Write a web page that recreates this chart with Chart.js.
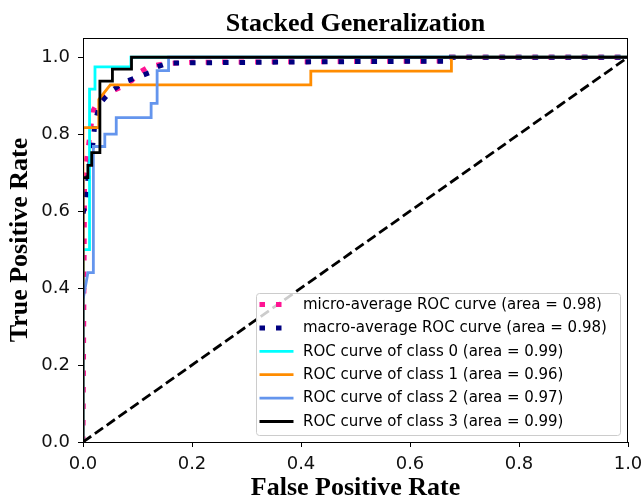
<!DOCTYPE html>
<html>
<head>
<meta charset="utf-8">
<title>Stacked Generalization</title>
<script src="https://cdn.jsdelivr.net/npm/chart.js@4.4.0/dist/chart.umd.min.js"></script>
<style>
  body { margin: 0; background: #fff; }
  .chart-box { width: 644px; height: 502px; }
</style>
</head>
<body>
<div class="chart-box"><canvas id="rocChart"></canvas></div>
<script>
// values
const chartTitle = "Stacked Generalization";
const xTitle = "False Positive Rate";
const yTitle = "True Positive Rate";
const xTicks = [0, 0.2, 0.4, 0.6, 0.8, 1.0];
const yTicks = [0, 0.2, 0.4, 0.6, 0.8, 1.0];

const seriesLabels = [
  "micro-average ROC curve (area = 0.98)",
  "macro-average ROC curve (area = 0.98)",
  "ROC curve of class 0 (area = 0.99)",
  "ROC curve of class 1 (area = 0.96)",
  "ROC curve of class 2 (area = 0.97)",
  "ROC curve of class 3 (area = 0.99)"
];

const microFpr = [0, 0.003, 0.008, 0.013, 0.018, 0.03, 0.05, 0.07, 0.09, 0.1, 0.123, 0.15, 0.2, 0.66, 0.66, 1];
const microTpr = [0, 0.70, 0.75, 0.80, 0.86, 0.89, 0.91, 0.922, 0.94, 0.958, 0.977, 0.983, 0.987, 0.99, 1, 1];

const macroFpr = [0, 0.005, 0.01, 0.017, 0.022, 0.031, 0.05, 0.074, 0.1, 0.126, 0.136, 0.157, 0.418, 0.676, 0.676, 1];
const macroTpr = [0.594, 0.62, 0.70, 0.76, 0.83, 0.88, 0.91, 0.935, 0.948, 0.962, 0.975, 0.985, 0.988, 0.99, 1, 1];

const class0Fpr = [0, 0, 0.012, 0.012, 0.022, 0.022, 0.088, 0.088, 1];
const class0Tpr = [0, 0.5, 0.5, 0.917, 0.917, 0.975, 0.975, 1, 1];

const class1Fpr = [0, 0, 0.029, 0.029, 0.05, 0.418, 0.418, 0.676, 0.676, 1];
const class1Tpr = [0, 0.817, 0.817, 0.89, 0.928, 0.928, 0.964, 0.964, 1, 1];

const class2Fpr = [0, 0, 0.009, 0.019, 0.019, 0.040, 0.040, 0.061, 0.061, 0.125, 0.125, 0.136, 0.136, 0.157, 0.157, 1];
const class2Tpr = [0, 0.37, 0.44, 0.44, 0.768, 0.768, 0.8, 0.8, 0.843, 0.843, 0.88, 0.88, 0.965, 0.965, 1, 1];

const class3Fpr = [0, 0, 0.009, 0.009, 0.016, 0.016, 0.031, 0.031, 0.054, 0.054, 0.089, 0.089, 1];
const class3Tpr = [0, 0.687, 0.687, 0.719, 0.719, 0.752, 0.752, 0.938, 0.938, 0.969, 0.969, 1, 1];

const chanceFpr = [0, 1];
const chanceTpr = [0, 1];

const toPoints = (xs, ys) => xs.map((x, i) => ({ x: x, y: ys[i] }));

const lineSet = (label, xs, ys, color, width, dash, order) => ({
  label: label,
  data: toPoints(xs, ys),
  borderColor: color,
  backgroundColor: color,
  borderWidth: width,
  borderDash: dash,
  borderJoinStyle: "miter",
  pointRadius: 0,
  tension: 0,
  fill: false,
  order: order
});

const dotted = [5.5, 11];

const datasets = [
  lineSet(seriesLabels[0], microFpr, microTpr, "#ff1493", 5, dotted, 7),
  lineSet(seriesLabels[1], macroFpr, macroTpr, "#000080", 5, dotted, 6),
  lineSet(seriesLabels[2], class0Fpr, class0Tpr, "#00ffff", 2.8, [], 5),
  lineSet(seriesLabels[3], class1Fpr, class1Tpr, "#ff8c00", 2.8, [], 4),
  lineSet(seriesLabels[4], class2Fpr, class2Tpr, "#6495ed", 2.8, [], 3),
  lineSet(seriesLabels[5], class3Fpr, class3Tpr, "#000000", 2.8, [], 2),
  lineSet("", chanceFpr, chanceTpr, "#000000", 2.8, [10, 4.5], 1)
];

const serif = "'Liberation Serif', 'Times New Roman', serif";
const sans = "'DejaVu Sans', sans-serif";

// frame round the plot, title over the axes
const framePlugin = {
  id: "frame",
  afterDatasetsDraw(chart) {
    const { ctx, chartArea: a } = chart;
    ctx.save();
    ctx.strokeStyle = "#000";
    ctx.lineWidth = 1;
    ctx.strokeRect(a.left + 0.5, a.top + 0.5, a.right - a.left - 1, a.bottom - a.top);
    ctx.fillStyle = "#000";
    ctx.font = "bold 26px " + serif;
    ctx.textAlign = "center";
    ctx.textBaseline = "alphabetic";
    ctx.fillText(chartTitle, (a.left + a.right) / 2, 31);
    ctx.restore();
  }
};

// legend box in the lower right of the plot
const legendPlugin = {
  id: "boxLegend",
  afterDraw(chart) {
    const { ctx } = chart;
    const items = chart.data.datasets.filter((d) => d.label);
    const x0 = 256, y0 = 293, w = 364, h = 142;
    ctx.save();
    ctx.fillStyle = "rgba(255,255,255,0.8)";
    ctx.strokeStyle = "#cccccc";
    ctx.lineWidth = 1;
    ctx.beginPath();
    ctx.roundRect(x0 + 0.5, y0 + 0.5, w, h, 3);
    ctx.fill();
    ctx.stroke();
    ctx.font = "15px " + sans;
    ctx.textBaseline = "middle";
    ctx.textAlign = "left";
    items.forEach((d, i) => {
      const y = y0 + 11.5 + i * 23.4;
      ctx.strokeStyle = d.borderColor;
      ctx.lineWidth = d.borderWidth;
      ctx.setLineDash(d.borderDash);
      ctx.beginPath();
      ctx.moveTo(259.5, y);
      ctx.lineTo(d.borderDash.length ? 289 : 293.5, y);
      ctx.stroke();
      ctx.setLineDash([]);
      ctx.fillStyle = "#000";
      ctx.fillText(d.label, 303, y + 0.5);
    });
    ctx.restore();
  }
};

const tickFont = { family: sans, size: 18 };
const titleFont = { family: serif, size: 26, weight: "bold" };

new Chart(document.getElementById("rocChart"), {
  type: "line",
  data: { datasets: datasets },
  options: {
    responsive: true,
    maintainAspectRatio: false,
    animation: false,
    layout: { padding: { left: 0, right: 16, top: 38, bottom: 0 } },
    plugins: {
      legend: { display: false },
      tooltip: { enabled: false },
      title: { display: false }
    },
    scales: {
      x: {
        type: "linear",
        min: 0,
        max: 1,
        afterBuildTicks: (s) => { s.ticks = xTicks.map((v) => ({ value: v })); },
        afterFit: (s) => { s.height = 60; s.paddingLeft = 0; s.paddingRight = 0; },
        ticks: { callback: (v) => v.toFixed(1), font: tickFont, color: "#111", padding: 7, maxRotation: 0 },
        grid: { drawOnChartArea: false, tickLength: 5, color: "#000" },
        border: { color: "#000", width: 1 },
        title: { display: true, text: xTitle, font: titleFont, color: "#000", padding: { top: 0, bottom: -2 } }
      },
      y: {
        type: "linear",
        min: 0,
        max: 1.05,
        afterBuildTicks: (s) => { s.ticks = yTicks.map((v) => ({ value: v })); },
        afterFit: (s) => { s.width = 83; s.paddingTop = 0; s.paddingBottom = 0; },
        ticks: { callback: (v) => v.toFixed(1), font: tickFont, color: "#111", padding: 8 },
        grid: { drawOnChartArea: false, tickLength: 5, color: "#000" },
        border: { color: "#000", width: 1 },
        title: { display: true, text: yTitle, font: titleFont, color: "#000", padding: { top: 5, bottom: 0 } }
      }
    }
  },
  plugins: [framePlugin, legendPlugin]
});
</script>
</body>
</html>
